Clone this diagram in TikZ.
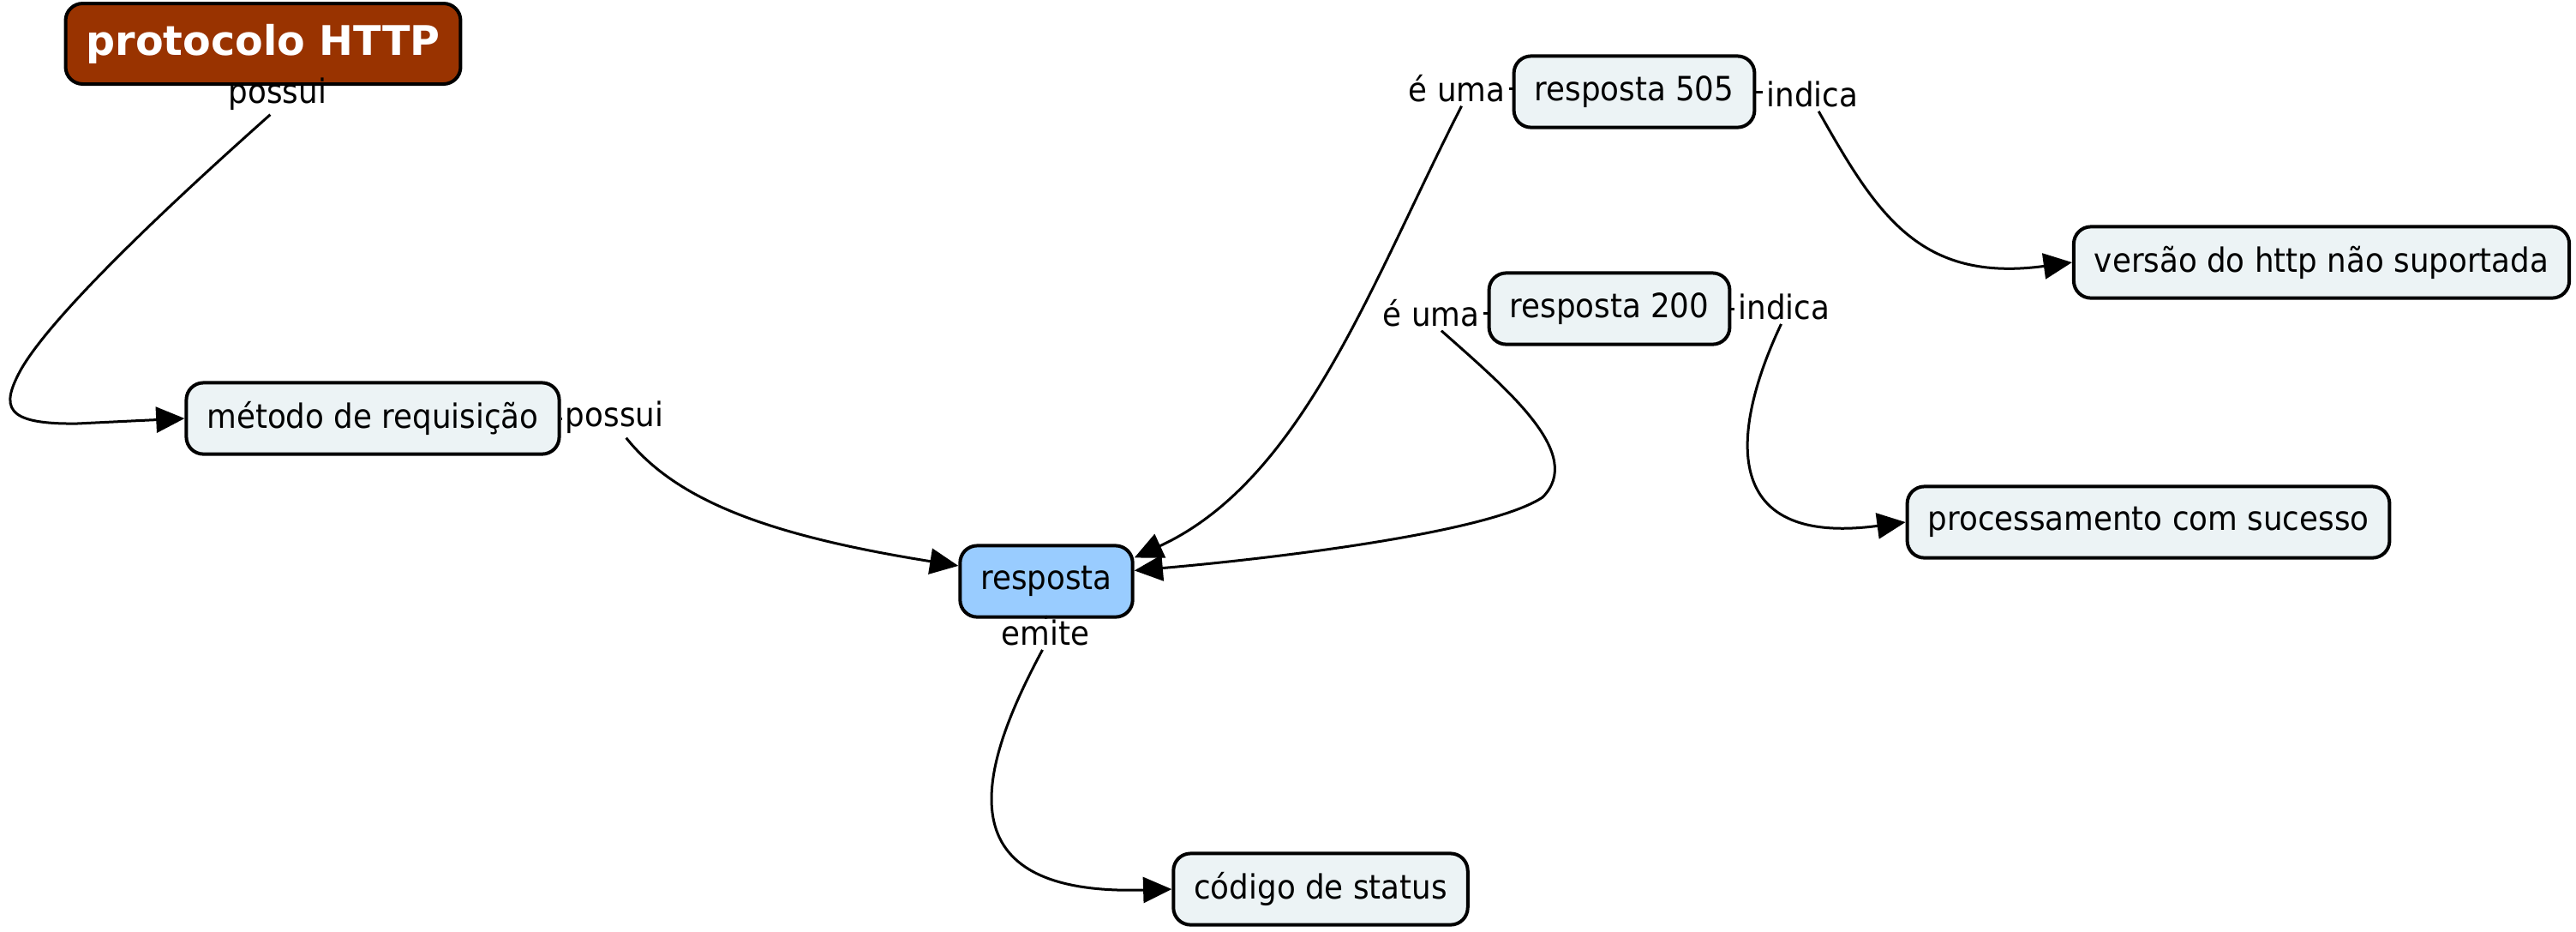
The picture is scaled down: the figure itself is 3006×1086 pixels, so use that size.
\documentclass[tikz,border=0pt]{standalone}
\usepackage{fontspec}
\setmainfont{DejaVu Sans}[FakeStretch=0.915]
\newfontfamily\titlefont{DejaVu Sans}
\usetikzlibrary{arrows.meta}

\definecolor{rootbrown}{RGB}{153,51,0}
\definecolor{conceptfill}{RGB}{236,243,245}
\definecolor{focusblue}{RGB}{153,204,255}

\tikzset{
  concept/.style={draw, line width=1pt, rounded corners=5pt, fill=conceptfill,
    inner xsep=6pt, minimum height=20.8pt, font=\fontsize{9.75}{11}\selectfont},
  root/.style={concept, fill=rootbrown, text=white, minimum height=23.5pt,
    font=\titlefont\fontsize{11.9}{13}\selectfont\bfseries},
  phrase/.style={inner sep=1pt, font=\fontsize{9.75}{11}\selectfont},
  link/.style={line width=0.75pt, -{Triangle[length=8.3pt,width=7.5pt]}},
  tick/.style={line width=0.75pt},
}

\begin{document}
\begin{tikzpicture}[x=0.25pt, y=-0.25pt]
  \useasboundingbox (0,0) rectangle (3006,1086);

  % concepts
  \node[root] (http) at (307,51) {protocolo HTTP};
  \node[concept] (metodo) at (435,488) {método de requisição};
  \node[concept, fill=focusblue] (resp) at (1221,678) {resposta};
  \node[concept] (codigo) at (1541,1037) {código de status};
  \node[concept] (r505) at (1907,107) {resposta 505};
  \node[concept] (r200) at (1878,360) {resposta 200};
  \node[concept] (versao) at (2709,306) {versão do http não suportada};
  \node[concept] (proc) at (2507,609) {processamento com sucesso};

  % linking phrases
  \node[phrase] (possA) at (324,110) {possui};
  \node[phrase] (possB) at (717,487) {possui};
  \node[phrase] (emite) at (1220,738) {emite};
  \node[phrase] (euma1) at (1700,103) {é uma};
  \node[phrase] (indica1) at (2115,110) {indica};
  \node[phrase] (euma2) at (1670,365) {é uma};
  \node[phrase] (indica2) at (2082,358) {indica};

  \foreach \from/\to in {euma1/r505, r505/indica1, euma2/r200, r200/indica2, metodo/possB} {
    \draw[tick] (\from.east) -- (\from.east -| \to.west);
  }
  \draw[tick] (resp.south) -- (emite.north);

  \draw[link] (possA.250) .. controls (180,254) and (60,370) .. (25,430)
    .. controls (0,475) and (5,495) .. (90,494) -- (metodo.west);
  \draw[link] (possB.-60) .. controls (790,585) and (900,625) .. (resp.170);
  \draw[link] (euma1.-75) .. controls (1600,330) and (1520,560) .. (resp.15);
  \draw[link] (euma2.-60) .. controls (1760,455) and (1850,530) .. (1800,580)
    .. controls (1740,620) and (1500,650) .. (resp.7);
  \draw[link] (indica1.-70) .. controls (2190,250) and (2240,330) .. (versao.west);
  \draw[link] (indica2.-100) .. controls (2030,480) and (1990,640) .. (proc.west);
  \draw[link] (emite.-100) .. controls (1140,900) and (1100,1045) .. (codigo.west);

\end{tikzpicture}
\end{document}
